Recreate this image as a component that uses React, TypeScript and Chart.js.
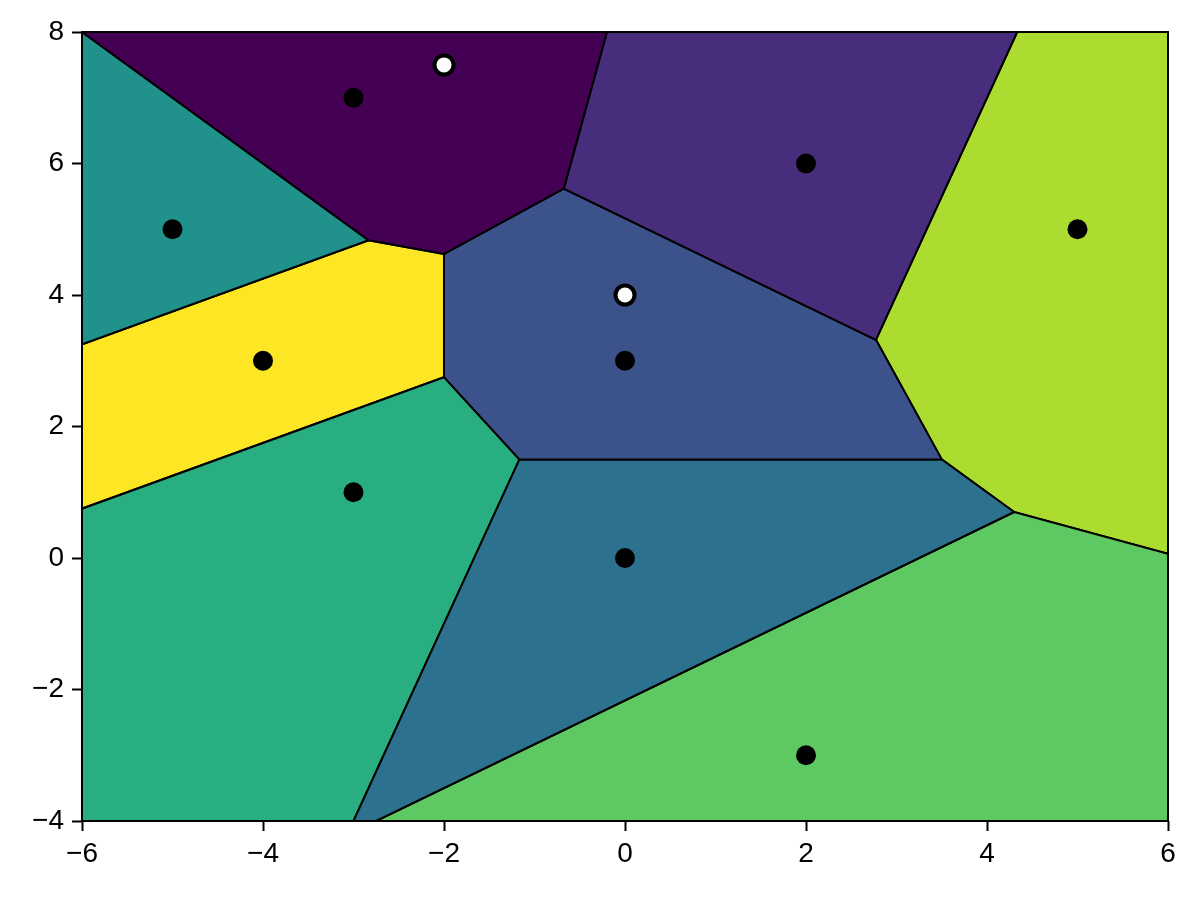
import React, { useEffect, useRef } from "react";
import { Chart, registerables } from "chart.js";
Chart.register(...registerables);

// Voronoi generator sites (black markers)
const siteX = [-3, 2, 0, 0, -5, -3, 2, 5, -4];
const siteY = [7, 6, 3, 0, 5, 1, -3, 5, 3];
const cellColors = ["#440154", "#472d7b", "#3b528b", "#2c728e", "#21918c", "#28ae80", "#5ec962", "#addc30", "#fde725"];
// extra white markers
const markX = [-2, 0];
const markY = [7.5, 4];
// axes
const xTicks = [-6, -4, -2, 0, 2, 4, 6];
const yTicks = [-4, -2, 0, 2, 4, 6, 8];
const xMin = -6, xMax = 6, yMin = -4, yMax = 8;

type P = { x: number; y: number };

function clipHalf(poly: P[], a: number, b: number, c: number): P[] {
  const out: P[] = [];
  for (let i = 0; i < poly.length; i++) {
    const p = poly[i], q = poly[(i + 1) % poly.length];
    const fp = a * p.x + b * p.y - c;
    const fq = a * q.x + b * q.y - c;
    if (fp <= 0) out.push(p);
    if ((fp < 0 && fq > 0) || (fp > 0 && fq < 0)) {
      const t = fp / (fp - fq);
      out.push({ x: p.x + t * (q.x - p.x), y: p.y + t * (q.y - p.y) });
    }
  }
  return out;
}

function voronoiCell(i: number): P[] {
  let poly: P[] = [
    { x: xMin, y: yMin }, { x: xMax, y: yMin }, { x: xMax, y: yMax }, { x: xMin, y: yMax },
  ];
  for (let j = 0; j < siteX.length; j++) {
    if (j === i) continue;
    const a = siteX[j] - siteX[i];
    const b = siteY[j] - siteY[i];
    const c = (siteX[j] ** 2 + siteY[j] ** 2 - siteX[i] ** 2 - siteY[i] ** 2) / 2;
    poly = clipHalf(poly, a, b, c);
  }
  if (poly.length) poly.push({ ...poly[0] });
  return poly;
}

const fmt = (v: number) => (v < 0 ? "\u2212" + Math.abs(v) : String(v));

const framePlugin = {
  id: "frame",
  afterDatasetsDraw(chart: any) {
    const { ctx, chartArea } = chart;
    ctx.save();
    ctx.strokeStyle = "#000";
    ctx.lineWidth = 2;
    ctx.strokeRect(chartArea.left, chartArea.top, chartArea.right - chartArea.left, chartArea.bottom - chartArea.top);
    ctx.restore();
  },
};

export default function App() {
  const ref = useRef<HTMLCanvasElement>(null);
  useEffect(() => {
    if (!ref.current) return;
    const font = { family: "'Liberation Sans', Arial, sans-serif", size: 28 };
    const cellSets = siteX.map((_, i) => ({
      type: "line" as const,
      data: voronoiCell(i),
      backgroundColor: cellColors[i],
      borderColor: "#000",
      borderWidth: 2,
      fill: "shape",
      pointRadius: 0,
      pointHoverRadius: 0,
      tension: 0,
      order: 2,
    }));
    const chart = new Chart(ref.current, {
      type: "scatter",
      data: {
        datasets: [
          {
            type: "scatter" as const,
            data: markX.map((x, i) => ({ x, y: markY[i] })),
            pointRadius: 9.5,
            pointBackgroundColor: "#fff",
            pointBorderColor: "#000",
            pointBorderWidth: 4,
            order: 0,
          },
          {
            type: "scatter" as const,
            data: siteX.map((x, i) => ({ x, y: siteY[i] })),
            pointRadius: 10,
            pointBackgroundColor: "#000",
            pointBorderColor: "#000",
            pointBorderWidth: 0,
            order: 1,
          },
          ...cellSets,
        ] as any,
      },
      options: {
        animation: false,
        responsive: false,
        devicePixelRatio: 1,
        layout: { padding: { left: 0, top: 32, right: 32, bottom: 0 } },
        plugins: { legend: { display: false }, tooltip: { enabled: false } },
        events: [],
        scales: {
          x: {
            type: "linear",
            min: xMin,
            max: xMax,
            afterBuildTicks: (s: any) => { s.ticks = xTicks.map((v) => ({ value: v })); },
            afterFit: (s: any) => { s.height = 79; },
            ticks: { callback: (v: any) => fmt(Number(v)), color: "#000", font, padding: 6, maxRotation: 0, autoSkip: false },
            grid: { display: true, drawOnChartArea: false, drawTicks: true, tickLength: 10, tickWidth: 2, tickColor: "#000" },
            border: { display: false },
          },
          y: {
            type: "linear",
            min: yMin,
            max: yMax,
            afterBuildTicks: (s: any) => { s.ticks = yTicks.map((v) => ({ value: v })); },
            afterFit: (s: any) => { s.width = 82; },
            ticks: { callback: (v: any) => fmt(Number(v)), color: "#000", font, padding: 8, autoSkip: false },
            grid: { display: true, drawOnChartArea: false, drawTicks: true, tickLength: 10, tickWidth: 2, tickColor: "#000" },
            border: { display: false },
          },
        },
      },
      plugins: [framePlugin],
    } as any);
    return () => chart.destroy();
  }, []);
  return (
    <div style={{ position: "absolute", left: 0, top: 0, width: 1200, height: 900, background: "#fff" }}>
      <canvas ref={ref} width={1200} height={900} />
    </div>
  );
}
